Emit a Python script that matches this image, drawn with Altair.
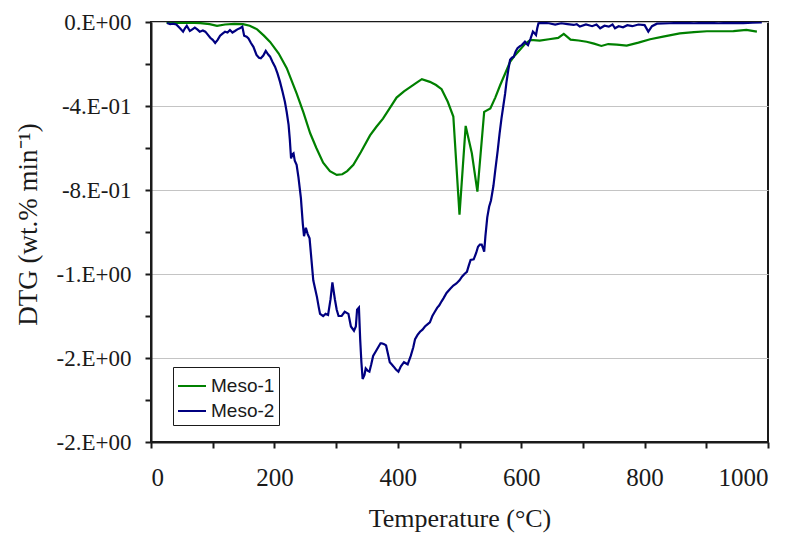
import json
import altair as alt
import pandas as pd

# ---------------- data ----------------
meso1_temp = [25, 40, 60, 80, 95, 107, 120, 135, 149, 160, 172, 183, 193, 207, 220,
              236, 247, 258, 268, 279, 290, 301, 310, 318, 328, 340, 355, 365, 376,
              387, 398, 410, 420, 430, 439, 452, 462, 471, 481, 490, 500, 510, 520,
              529, 540, 550, 558, 566, 574, 582, 590, 598, 606, 615, 630, 645, 660,
              669, 680, 693, 706, 718, 730, 741, 755, 771, 790, 809, 830, 857, 880,
              901, 920, 944, 965, 982]
meso1_dtg = [-0.003, -0.004, -0.003, -0.005, -0.010, -0.018, -0.012, -0.009, -0.010,
             -0.018, -0.035, -0.065, -0.095, -0.150, -0.220, -0.340, -0.430, -0.530,
             -0.600, -0.670, -0.710, -0.728, -0.725, -0.710, -0.680, -0.620, -0.540,
             -0.500, -0.460, -0.410, -0.360, -0.330, -0.310, -0.290, -0.272, -0.285,
             -0.300, -0.320, -0.380, -0.450, -0.917, -0.495, -0.625, -0.808, -0.428,
             -0.412, -0.360, -0.300, -0.245, -0.190, -0.158, -0.132, -0.105, -0.085,
             -0.089, -0.082, -0.076, -0.057, -0.084, -0.088, -0.094, -0.103, -0.114,
             -0.105, -0.108, -0.112, -0.098, -0.082, -0.070, -0.054, -0.048, -0.044,
             -0.044, -0.043, -0.038, -0.046]

meso2_temp = [26, 31, 36, 41, 47, 52, 55, 58, 63, 67, 71, 75, 79, 84, 88, 92, 96, 100,
              104, 108, 112, 116, 120, 124, 128, 132, 136, 140, 144, 148, 151, 155, 158,
              162, 166, 171, 175, 178, 182, 186, 190, 193, 197, 201, 205, 209, 213, 217,
              220, 223, 225, 227, 229, 231, 233, 236, 239, 241, 243, 244, 246, 248, 251,
              254, 257, 260, 263, 266, 269, 272, 274, 279, 283, 287, 291, 294, 296, 298,
              301, 304, 309, 314, 320, 322, 324, 329, 332, 334, 337, 339, 341, 343, 346,
              348, 351, 354, 357, 360, 364, 368, 372, 374, 378, 381, 384, 387, 390, 393,
              397, 401, 405, 410, 416, 421, 425, 428, 432, 436, 440, 444, 448, 452, 456,
              460, 464, 467, 471, 474, 479, 485, 490, 495, 500, 504, 508, 512, 515, 518,
              523, 527, 530, 533, 536, 538, 540, 542, 545, 548, 551, 555, 558, 562, 565,
              568, 571, 574, 576, 579, 582, 585, 588, 591, 594, 598, 601, 604, 606, 609,
              611, 615, 619, 622, 624, 626, 628, 635, 645, 655, 665, 675, 685, 690, 695,
              705, 715, 722, 728, 735, 742, 748, 752, 758, 765, 772, 780, 790, 800, 806,
              812, 820, 840, 860, 880, 900, 920, 940, 960, 975, 990]
meso2_dtg = [-0.005, -0.010, -0.008, -0.012, -0.030, -0.046, -0.030, -0.018, -0.043,
             -0.035, -0.027, -0.035, -0.046, -0.040, -0.046, -0.060, -0.075, -0.085,
             -0.100, -0.085, -0.065, -0.055, -0.046, -0.050, -0.038, -0.050, -0.043,
             -0.035, -0.030, -0.022, -0.065, -0.070, -0.078, -0.100, -0.118, -0.157,
             -0.170, -0.173, -0.160, -0.138, -0.155, -0.165, -0.190, -0.213, -0.245,
             -0.284, -0.330, -0.380, -0.430, -0.490, -0.560, -0.650, -0.630, -0.625,
             -0.660, -0.680, -0.740, -0.790, -0.840, -0.880, -0.960, -1.020, -0.980,
             -1.010, -1.030, -1.130, -1.230, -1.270, -1.310, -1.360, -1.390, -1.400,
             -1.390, -1.395, -1.320, -1.240, -1.280, -1.320, -1.370, -1.400, -1.400,
             -1.380, -1.390, -1.420, -1.450, -1.470, -1.450, -1.370, -1.360, -1.510,
             -1.620, -1.700, -1.680, -1.650, -1.660, -1.665, -1.630, -1.590, -1.570,
             -1.550, -1.530, -1.530, -1.535, -1.540, -1.580, -1.620, -1.630, -1.640,
             -1.655, -1.665, -1.640, -1.620, -1.630, -1.590, -1.550, -1.510, -1.490,
             -1.475, -1.465, -1.450, -1.440, -1.430, -1.400, -1.380, -1.360, -1.350,
             -1.330, -1.316, -1.290, -1.270, -1.255, -1.245, -1.230, -1.213, -1.200,
             -1.190, -1.160, -1.133, -1.130, -1.100, -1.070, -1.060, -1.060, -1.075,
             -1.094, -1.020, -0.930, -0.880, -0.850, -0.780, -0.705, -0.610, -0.530,
             -0.460, -0.400, -0.340, -0.290, -0.230, -0.180, -0.170, -0.165, -0.140,
             -0.125, -0.115, -0.110, -0.100, -0.094, -0.105, -0.110, -0.080, -0.046,
             -0.055, -0.062, -0.030, -0.006, -0.004, -0.006, -0.012, -0.006, -0.010,
             -0.014, -0.010, -0.022, -0.012, -0.020, -0.012, -0.030, -0.018, -0.022,
             -0.012, -0.030, -0.020, -0.025, -0.015, -0.020, -0.012, -0.015, -0.046,
             -0.020, -0.008, -0.006, -0.004, -0.006, -0.004, -0.006, -0.004, -0.005,
             -0.003, -0.002]

series_names = ["Meso-1", "Meso-2"]
series_colors = ["#008000", "#000080"]

x_tick_values = [0, 100, 200, 300, 400, 500, 600, 700, 800, 900, 1000]
y_tick_values = [0, -0.2, -0.4, -0.6, -0.8, -1.0, -1.2, -1.4, -1.6, -1.8, -2.0]
y_tick_labels = ["0.E+00", "-4.E-01", "-8.E-01", "-1.E+00", "-2.E+00", "-2.E+00"]

x_title = "Temperature (°C)"
y_title = "DTG (wt.% min⁻¹)"

# ---------------- table ----------------
df = pd.concat([
    pd.DataFrame({"T": meso1_temp, "DTG": meso1_dtg, "Series": series_names[0]}),
    pd.DataFrame({"T": meso2_temp, "DTG": meso2_dtg, "Series": series_names[1]}),
], ignore_index=True)

SERIF = "Liberation Serif"
SANS = "Liberation Sans"
INK = "#1a1a1a"

major_y_test = "abs(round(datum.value*10)) % 4 === 0"
y_label_expr = (
    f"{major_y_test} ? {json.dumps(y_tick_labels)}[abs(round(datum.value*2.5))] : ''"
)

x_axis = alt.Axis(
    values=x_tick_values,
    labelExpr="datum.value % 200 === 0 ? '' + datum.value : ''",
    grid=False,
    domainColor=INK, domainWidth=2,
    tickColor=INK, tickWidth=2, tickSize=6,
    labelFont=SERIF, labelFontSize=25, labelColor=INK,
    labelBaseline="alphabetic", labelPadding=37,
    title=x_title, titleFont=SERIF, titleFontSize=26, titleFontWeight="normal",
    titleColor=INK, titleBaseline="alphabetic", titleY=84,
)

y_axis = alt.Axis(
    values=y_tick_values,
    labelExpr=y_label_expr,
    grid=True, gridColor="#c4c4c4", gridWidth=1,
    gridOpacity={"condition": {"test": major_y_test, "value": 1}, "value": 0},
    domainColor=INK, domainWidth=2,
    tickColor=INK, tickWidth=2, tickSize=6,
    labelFont=SERIF, labelFontSize=23, labelColor=INK, labelPadding=14,
    labelBaseline="middle",
    title=y_title, titleFont=SERIF, titleFontSize=27, titleFontWeight="normal",
    titleColor=INK, titleAngle=-90, titleBaseline="middle", titleAlign="center",
    titleX=-123, titleY=202,
)

legend = alt.Legend(
    title=None, orient="none", legendX=22, legendY=345, direction="vertical",
    symbolType="stroke", symbolSize=784, symbolStrokeWidth=2,
    labelFont=SANS, labelFontSize=19, labelColor=INK, labelOffset=4,
    strokeColor=INK, fillColor="white", padding=4, rowPadding=-2, cornerRadius=0,
)

chart = alt.Chart(df).mark_line(strokeWidth=2.2, clip=True).encode(
    x=alt.X("T:Q", scale=alt.Scale(domain=[0, 1000], nice=False), axis=x_axis),
    y=alt.Y("DTG:Q", scale=alt.Scale(domain=[-2.0, 0], nice=False, zero=False), axis=y_axis),
    color=alt.Color("Series:N",
                    scale=alt.Scale(domain=series_names, range=series_colors),
                    legend=legend),
).properties(
    width=617, height=420,
    autosize="none",
    padding={"left": 151, "top": 22, "right": 27, "bottom": 91},
    background="white",
).configure_view(
    stroke=INK, strokeWidth=2,
)

chart.save("out.html", embed_options={"renderer": "svg", "actions": False})
